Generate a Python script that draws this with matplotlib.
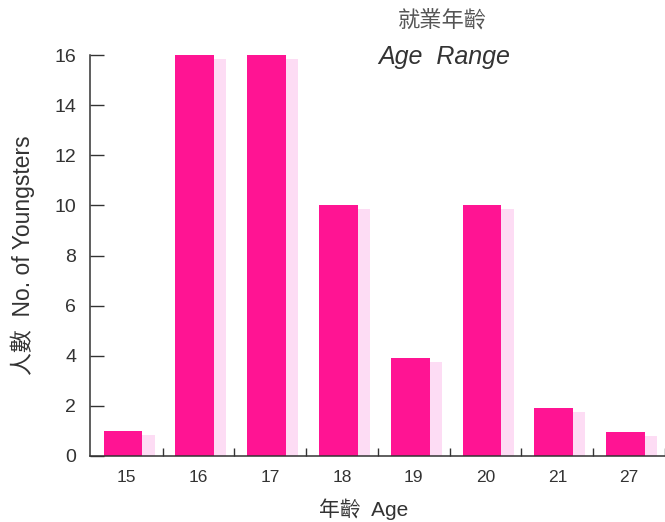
import numpy as np
import matplotlib
matplotlib.use("Agg")
import matplotlib.pyplot as plt

plt.rcParams['font.family'] = ['Liberation Sans', 'Noto Sans CJK TC', 'DejaVu Sans']

# youngsters in employment, by age
AGES = ['15', '16', '17', '18', '19', '20', '21', '27']
COUNTS = [1.0, 16, 16, 10, 3.9, 10, 1.9, 0.95]

BAR = '#FF1493'
SHADE = '#FDDCF4'
INK = '#333333'

fig = plt.figure(figsize=(6.65, 5.22), dpi=100)
ax = fig.add_axes([90 / 665, 66 / 522, 575 / 665, 401 / 522])

x = np.arange(len(AGES))
counts = np.array(COUNTS, dtype=float)

# soft pink drop shadow behind each bar
ax.bar(x + 0.17, counts - 0.16, width=0.54, color=SHADE, zorder=1)
ax.bar(x, counts, width=0.54, color=BAR, zorder=2)

ax.set_xlim(-0.46, 7.55)
ax.set_ylim(0, 16)

for side in ['top', 'right']:
    ax.spines[side].set_visible(False)
for side in ['left', 'bottom']:
    ax.spines[side].set_color(INK)
    ax.spines[side].set_linewidth(1.1)

ax.set_yticks(np.arange(0, 17, 2))
ax.tick_params(axis='y', direction='in', length=10, width=1.0, color=INK,
               pad=10, labelsize=14, labelcolor=INK)

ax.set_xticks(x + 0.05)
ax.set_xticklabels(AGES)
ax.set_xticks(x + 0.55, minor=True)
ax.tick_params(axis='x', which='major', length=0, pad=10, labelsize=12.5,
               labelcolor=INK)
ax.tick_params(axis='x', which='minor', direction='in', length=6, width=1.0,
               color=INK)

ax.set_ylabel('人數  No. of Youngsters', fontsize=16.5, color=INK)
ax.yaxis.set_label_coords(-0.095, 0.5)
ax.set_xlabel('年齡  Age', fontsize=15, color=INK)
ax.xaxis.set_label_coords((364 - 90) / 575, -0.105)

fig.text(442 / 665, 1 - 22 / 522, '就業年齡', ha='center', va='center',
         fontsize=16, style='italic', color='#555555')
fig.text(444 / 665, 1 - 57 / 522, 'Age  Range', ha='center', va='center',
         fontsize=18, style='italic', color=INK)

fig.savefig('out.png', dpi=100)
